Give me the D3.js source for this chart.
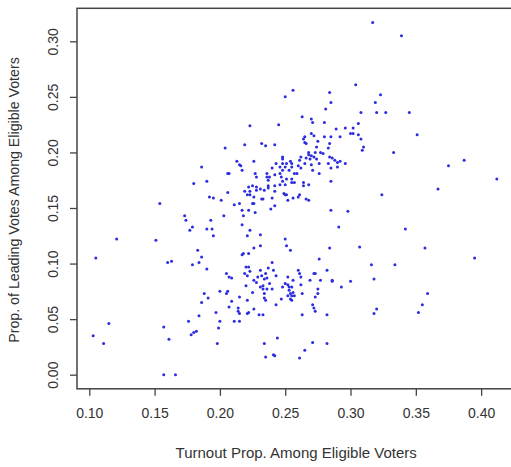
<!DOCTYPE html>
<html>
<head>
<meta charset="utf-8">
<script src="https://cdn.jsdelivr.net/npm/d3@7"></script>
<style>
  body { margin: 0; background: #fff; }
  text { font-family: "Liberation Sans", Arial, sans-serif; fill: #333; }
</style>
</head>
<body>
<div id="chart"></div>
<script>
// turnout proportion (x) and leading-vote proportion (y)
var turnout = [
  0.317,0.339,0.304,0.256,0.250,0.284,0.323,0.285,0.319,0.281,
  0.308,0.320,0.327,0.345,0.263,0.270,0.271,0.280,0.223,0.245,
  0.306,0.351,0.302,0.296,0.289,0.300,0.302,0.306,0.292,0.270,
  0.272,0.265,0.280,0.285,0.308,0.264,0.275,0.265,0.266,0.284,
  0.219,0.232,0.235,0.242,0.274,0.204,0.310,0.309,0.283,0.333,
  0.268,0.273,0.277,0.279,0.268,0.270,0.262,0.266,0.272,0.274,
  0.269,0.284,0.286,0.288,0.290,0.283,0.296,0.265,0.276,0.270,
  0.292,0.248,0.248,0.254,0.261,0.243,0.248,0.251,0.255,0.213,
  0.215,0.186,0.216,0.226,0.250,0.255,0.260,0.262,0.240,0.246,
  0.248,0.253,0.290,0.285,0.271,0.276,0.217,0.207,0.206,0.227,
  0.236,0.236,0.238,0.242,0.246,0.257,0.259,0.247,0.251,0.255,
  0.228,0.190,0.285,0.237,0.248,0.255,0.257,0.242,0.246,0.250,
  0.264,0.264,0.268,0.180,0.237,0.225,0.228,0.222,0.237,0.367,
  0.375,0.387,0.412,0.219,0.223,0.228,0.231,0.234,0.242,0.206,
  0.221,0.223,0.226,0.249,0.250,0.251,0.261,0.260,0.324,0.232,
  0.240,0.252,0.256,0.266,0.268,0.192,0.195,0.201,0.211,0.215,
  0.225,0.226,0.233,0.242,0.239,0.154,0.217,0.222,0.227,0.285,
  0.298,0.173,0.203,0.174,0.193,0.190,0.194,0.177,0.179,0.291,
  0.342,0.217,0.195,0.221,0.223,0.231,0.121,0.151,0.250,0.251,
  0.231,0.226,0.307,0.357,0.276,0.254,0.284,0.217,0.218,0.222,
  0.105,0.183,0.186,0.160,0.163,0.184,0.179,0.240,0.395,0.316,
  0.334,0.220,0.222,0.190,0.237,0.260,0.231,0.223,0.235,0.282,
  0.241,0.261,0.262,0.219,0.221,0.205,0.207,0.209,0.229,0.232,
  0.243,0.272,0.273,0.252,0.256,0.269,0.277,0.286,0.286,0.300,
  0.318,0.226,0.228,0.234,0.236,0.238,0.250,0.252,0.262,0.220,
  0.231,0.233,0.248,0.253,0.255,0.293,0.206,0.205,0.200,0.225,
  0.233,0.236,0.240,0.253,0.254,0.256,0.263,0.275,0.275,0.359,
  0.188,0.234,0.234,0.252,0.255,0.257,0.273,0.191,0.215,0.221,
  0.235,0.247,0.254,0.255,0.209,0.186,0.207,0.243,0.271,0.272,
  0.273,0.355,0.214,0.214,0.215,0.221,0.222,0.226,0.230,0.233,
  0.263,0.282,0.320,0.318,0.352,0.197,0.184,0.211,0.215,0.200,
  0.176,0.115,0.199,0.157,0.178,0.180,0.182,0.103,0.244,0.161,
  0.111,0.198,0.234,0.271,0.282,0.265,0.241,0.242,0.235,0.261,
  0.157,0.166,0.218
];

var leading = [
  0.317,0.305,0.261,0.256,0.250,0.254,0.252,0.245,0.245,0.239,
  0.236,0.236,0.236,0.236,0.232,0.230,0.227,0.227,0.224,0.225,
  0.226,0.216,0.222,0.222,0.221,0.217,0.217,0.216,0.214,0.217,
  0.215,0.214,0.214,0.214,0.212,0.212,0.210,0.209,0.208,0.208,
  0.207,0.208,0.206,0.207,0.205,0.204,0.205,0.202,0.204,0.200,
  0.200,0.200,0.200,0.199,0.198,0.197,0.196,0.195,0.196,0.194,
  0.194,0.196,0.195,0.193,0.191,0.190,0.190,0.190,0.190,0.189,
  0.192,0.196,0.194,0.192,0.193,0.190,0.190,0.190,0.190,0.192,
  0.189,0.187,0.188,0.192,0.187,0.187,0.188,0.186,0.186,0.187,
  0.184,0.184,0.187,0.186,0.184,0.181,0.184,0.181,0.181,0.181,
  0.181,0.178,0.178,0.180,0.181,0.181,0.181,0.178,0.176,0.176,
  0.178,0.174,0.174,0.175,0.174,0.173,0.173,0.170,0.171,0.171,
  0.173,0.170,0.171,0.172,0.170,0.170,0.169,0.169,0.168,0.167,
  0.188,0.193,0.176,0.165,0.165,0.166,0.167,0.166,0.165,0.164,
  0.162,0.162,0.160,0.163,0.162,0.162,0.162,0.160,0.162,0.158,
  0.159,0.157,0.159,0.158,0.157,0.160,0.159,0.157,0.153,0.154,
  0.154,0.154,0.158,0.152,0.149,0.154,0.148,0.148,0.146,0.148,
  0.147,0.143,0.143,0.139,0.139,0.131,0.131,0.130,0.133,0.133,
  0.131,0.135,0.125,0.125,0.130,0.126,0.122,0.121,0.122,0.116,
  0.116,0.114,0.115,0.114,0.104,0.112,0.114,0.108,0.109,0.109,
  0.105,0.112,0.106,0.101,0.102,0.101,0.099,0.101,0.105,0.099,
  0.099,0.097,0.097,0.095,0.096,0.094,0.094,0.093,0.091,0.094,
  0.094,0.091,0.088,0.091,0.089,0.091,0.088,0.087,0.088,0.089,
  0.089,0.091,0.091,0.088,0.085,0.085,0.085,0.085,0.084,0.084,
  0.086,0.085,0.083,0.086,0.087,0.082,0.082,0.081,0.081,0.080,
  0.079,0.080,0.079,0.079,0.079,0.079,0.075,0.073,0.075,0.074,
  0.077,0.077,0.077,0.076,0.073,0.074,0.073,0.077,0.073,0.073,
  0.073,0.073,0.069,0.071,0.071,0.071,0.070,0.069,0.070,0.067,
  0.067,0.068,0.068,0.067,0.066,0.065,0.061,0.063,0.063,0.060,
  0.057,0.063,0.060,0.057,0.055,0.055,0.056,0.059,0.054,0.054,
  0.054,0.054,0.059,0.055,0.056,0.056,0.053,0.048,0.048,0.048,
  0.048,0.046,0.042,0.043,0.036,0.038,0.039,0.035,0.033,0.032,
  0.028,0.028,0.028,0.029,0.028,0.022,0.018,0.017,0.016,0.015,
  0.000,0.000,0.143
];

var xTicks = [0.10, 0.15, 0.20, 0.25, 0.30, 0.35, 0.40];
var yTicks = [0.00, 0.05, 0.10, 0.15, 0.20, 0.25, 0.30];

var w = 511,
    h = 467;

var plotLeft = 77, plotRight = 513, plotTop = 8.3, plotBottom = 388.8;

// R style: data range padded by 4% on each side
var x = d3.scaleLinear()
    .domain([0.0906, 0.4244])
    .range([plotLeft, plotRight]);

var y = d3.scaleLinear()
    .domain([-0.0127, 0.3297])
    .range([plotBottom, plotTop]);

var svg = d3.select("#chart").append("svg")
    .attr("width", w)
    .attr("height", h);

// points
svg.append("g")
    .selectAll("circle")
    .data(d3.range(turnout.length))
    .enter().append("circle")
    .attr("cx", function(i) { return x(turnout[i]); })
    .attr("cy", function(i) { return y(leading[i]); })
    .attr("r", 1.5)
    .style("fill", "#2c2ce0");

// box
svg.append("rect")
    .attr("x", plotLeft)
    .attr("y", plotTop)
    .attr("width", plotRight - plotLeft)
    .attr("height", plotBottom - plotTop)
    .style("fill", "none")
    .style("stroke", "#444")
    .style("stroke-width", 1.5);

// x axis
var xAxis = svg.append("g")
    .attr("transform", "translate(0," + plotBottom + ")")
    .call(d3.axisBottom(x).tickValues(xTicks).tickSize(7).tickPadding(12)
        .tickFormat(d3.format(".2f")));

// y axis
var yAxis = svg.append("g")
    .attr("transform", "translate(" + plotLeft + ",0)")
    .call(d3.axisLeft(y).tickValues(yTicks).tickSize(7).tickPadding(0)
        .tickFormat(d3.format(".2f")));

[xAxis, yAxis].forEach(function(a) {
    a.select(".domain").remove();
    a.selectAll(".tick line").style("stroke", "#444").style("stroke-width", 1.3);
    a.selectAll("text").style("font-size", "14px").style("fill", "#333")
        .style("font-family", "'Liberation Sans', Arial, sans-serif");
});

// rotated y tick labels, as in base R
yAxis.selectAll(".tick text")
    .attr("x", 0)
    .attr("text-anchor", "middle")
    .attr("transform", "translate(-24,0) rotate(-90)")
    .attr("dy", "0.35em");

// axis titles
svg.append("text")
    .attr("x", x(0.25) + 11)
    .attr("y", 458)
    .attr("text-anchor", "middle")
    .style("font-size", "15px")
    .text("Turnout Prop. Among Eligible Voters");

svg.append("text")
    .attr("transform", "translate(19," + (y(0.15) - 8) + ") rotate(-90)")
    .attr("text-anchor", "middle")
    .style("font-size", "14.2px")
    .text("Prop. of Leading Votes Among Eligible Voters");
</script>
</body>
</html>
